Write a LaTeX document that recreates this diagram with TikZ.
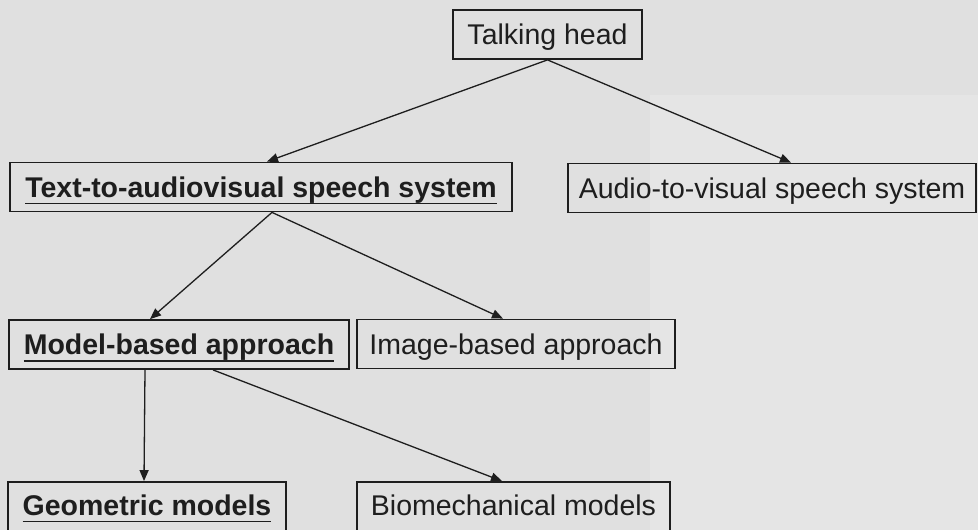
\documentclass[tikz,border=0pt]{standalone}
\usepackage{fontspec}
\setmainfont{Liberation Sans}
\usetikzlibrary{arrows.meta}

% bold text with an underline laid just under the baseline
\newcommand\ulbold[1]{\setbox0\hbox{\bfseries #1}\rlap{\rule[-7pt]{\wd0}{1.3pt}}\box0}

\definecolor{paper}{RGB}{224,224,224}
\definecolor{paperlight}{RGB}{229,229,229}
\definecolor{ink}{RGB}{30,30,30}

\begin{document}
\begin{tikzpicture}[x=1pt,y=-1pt,
  box/.style={draw=ink, line width=1.8pt, rectangle, inner xsep=0pt,
    font=\fontsize{28.5}{30}\selectfont, text=ink,
    text height=20.4pt, text depth=0pt, minimum height=49pt},
  openbox/.style={box, minimum height=0pt, text depth=40pt, inner ysep=12.6pt, anchor=base},
  link/.style={draw=ink, line width=1.3pt, -{Triangle[length=11pt,width=9pt]}}]

% page and paper tone
\fill[paper] (0,0) rectangle (978,530);
\fill[paperlight] (650,95) rectangle (978,530);
\useasboundingbox (0,0) rectangle (978,530);
\clip (0,0) rectangle (978,530);

% boxes
\node[box, minimum width=189pt] (th)  at (547.5,34.5) {Talking head};
\node[box, minimum width=502pt] (tav) at (261,187)   {\ulbold{Text-to-audiovisual speech system}};
\node[box, minimum width=408pt] (avs) at (772,188)   {Audio-to-visual speech system};
\node[box, minimum width=340pt] (mba) at (179,344.5) {\ulbold{Model-based approach}};
\node[box, minimum width=318pt] (iba) at (516,344)   {Image-based approach};
\node[openbox, minimum width=278pt] (geo) at (147,515)   {\ulbold{Geometric models}};
\node[openbox, minimum width=313pt] (bio) at (513.5,515) {Biomechanical models};

% connectors
\draw[link] (th.south) -- ([xshift=6pt]tav.north);
\draw[link] (th.south) -- ([xshift=19pt]avs.north);
\draw[link] ([xshift=11pt]tav.south) -- ([xshift=-29pt]mba.north);
\draw[link] ([xshift=11pt]tav.south) -- ([xshift=-13pt]iba.north);
\draw[link] ([xshift=-34pt]mba.south) -- ([xshift=-3pt]geo.north);
\draw[link] ([xshift=34pt]mba.south) -- ([xshift=-11.5pt]bio.north);
\end{tikzpicture}
\end{document}
